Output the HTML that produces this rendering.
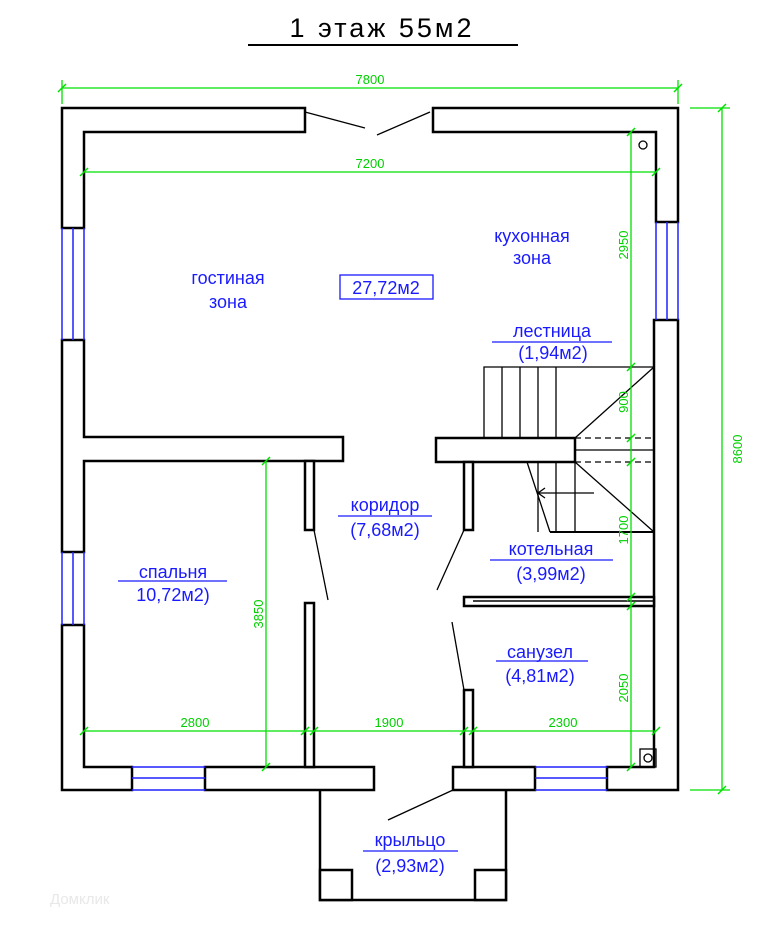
<!DOCTYPE html>
<html><head><meta charset="utf-8"><style>
body{margin:0;background:#fff}
svg text{font-family:"Liberation Sans",sans-serif}
</style></head><body>
<svg width="774" height="924" viewBox="0 0 774 924" xmlns="http://www.w3.org/2000/svg">
<g fill="#fff" stroke="#000" stroke-width="2.5">
<path d="M62,108 H305 V132 H84 V228 H62 Z"/>
<path d="M433,108 H678 V222 H656 V132 H433 Z"/>
<path d="M62,340 H84 V437 H343 V461 H84 V552 H62 Z"/>
<path d="M62,625 H84 V767 H132 V790 H62 Z"/>
<rect x="205" y="767" width="169" height="23"/>
<rect x="453" y="767" width="82" height="23"/>
<path d="M654,320 H678 V790 H607 V767 H654 Z"/>
<rect x="436" y="438" width="139" height="24"/>
<rect x="305" y="461" width="9" height="69"/>
<rect x="305" y="603" width="9" height="164"/>
<rect x="464" y="462" width="9" height="68"/>
<rect x="464" y="690" width="9" height="77"/>
<rect x="464" y="597" width="190" height="9"/>
<line x1="473" y1="601" x2="654" y2="601" stroke-width="1.5"/>
<path d="M320,790 V900 H506 V790" fill="none"/>
<rect x="320" y="870" width="32" height="30"/>
<rect x="475" y="870" width="31" height="30"/>
</g>
<g stroke="#2020ff" stroke-width="1.5">
<line x1="62" y1="228" x2="62" y2="340"/><line x1="73" y1="228" x2="73" y2="340"/><line x1="84" y1="228" x2="84" y2="340"/>
<line x1="62" y1="552" x2="62" y2="625"/><line x1="73" y1="552" x2="73" y2="625"/><line x1="84" y1="552" x2="84" y2="625"/>
<line x1="656" y1="222" x2="656" y2="320"/><line x1="667" y1="222" x2="667" y2="320"/><line x1="678" y1="222" x2="678" y2="320"/>
<line x1="132" y1="767" x2="205" y2="767"/><line x1="132" y1="778" x2="205" y2="778"/><line x1="132" y1="790" x2="205" y2="790"/>
<line x1="535" y1="767" x2="607" y2="767"/><line x1="535" y1="778" x2="607" y2="778"/><line x1="535" y1="790" x2="607" y2="790"/>
</g>
<g stroke="#000" stroke-width="1.3" fill="none">
<path d="M484,438 V367 H654"/>
<line x1="502" y1="367" x2="502" y2="438"/><line x1="520" y1="367" x2="520" y2="438"/><line x1="538" y1="367" x2="538" y2="438"/><line x1="556" y1="367" x2="556" y2="438"/>
<line x1="575" y1="438" x2="654" y2="367"/>
<line x1="575" y1="438" x2="654" y2="438" stroke-dasharray="6,4"/>
<line x1="575" y1="462" x2="654" y2="462" stroke-dasharray="6,4"/>
<line x1="575" y1="450" x2="654" y2="450"/>
<line x1="538" y1="462" x2="538" y2="532"/><line x1="556" y1="462" x2="556" y2="532"/><line x1="575" y1="462" x2="575" y2="532"/>
<line x1="550" y1="532" x2="654" y2="532" stroke-width="2"/>
<line x1="575" y1="462" x2="654" y2="532"/>
<line x1="527" y1="462" x2="550" y2="532"/>
<line x1="538" y1="493" x2="594" y2="493"/><path d="M545,488 L538,493 L545,498"/>
<line x1="305" y1="112" x2="365" y2="128"/><line x1="377" y1="135" x2="430" y2="112"/>
<line x1="314" y1="530" x2="328" y2="600"/><line x1="464" y1="530" x2="437" y2="590"/>
<line x1="452" y1="622" x2="464" y2="690"/><line x1="453" y1="790" x2="388" y2="820"/>
<circle cx="643" cy="145" r="4"/>
<rect x="640" y="749" width="16" height="18"/><circle cx="648" cy="758" r="4"/>
</g>
<g stroke="#00e000" stroke-width="1.3" fill="none">
<line x1="62" y1="88" x2="678" y2="88"/><line x1="62" y1="80" x2="62" y2="104"/><line x1="678" y1="80" x2="678" y2="104"/>
<line x1="84" y1="172" x2="656" y2="172"/>
<line x1="722" y1="108" x2="722" y2="790"/><line x1="690" y1="108" x2="730" y2="108"/><line x1="690" y1="790" x2="730" y2="790"/>
<line x1="631" y1="132" x2="631" y2="767"/>
<line x1="266" y1="461" x2="266" y2="767"/>
<line x1="84" y1="731" x2="656" y2="731"/>
<g stroke-width="1.5">
<line x1="58" y1="92" x2="66" y2="84"/><line x1="674" y1="92" x2="682" y2="84"/>
<line x1="80" y1="176" x2="88" y2="168"/><line x1="652" y1="176" x2="660" y2="168"/>
<line x1="718" y1="112" x2="726" y2="104"/><line x1="718" y1="794" x2="726" y2="786"/>
<line x1="627" y1="136" x2="635" y2="128"/><line x1="627" y1="371" x2="635" y2="363"/><line x1="627" y1="442" x2="635" y2="434"/><line x1="627" y1="466" x2="635" y2="458"/><line x1="627" y1="601" x2="635" y2="593"/><line x1="627" y1="610" x2="635" y2="602"/><line x1="627" y1="771" x2="635" y2="763"/>
<line x1="262" y1="465" x2="270" y2="457"/><line x1="262" y1="771" x2="270" y2="763"/>
<line x1="80" y1="735" x2="88" y2="727"/><line x1="301" y1="735" x2="309" y2="727"/><line x1="310" y1="735" x2="318" y2="727"/><line x1="460" y1="735" x2="468" y2="727"/><line x1="469" y1="735" x2="477" y2="727"/><line x1="652" y1="735" x2="660" y2="727"/>
</g>
</g>
<g fill="#00d000" font-size="13">
<text x="370" y="84" text-anchor="middle">7800</text>
<text x="370" y="168" text-anchor="middle">7200</text>
<text x="195" y="727" text-anchor="middle">2800</text>
<text x="389" y="727" text-anchor="middle">1900</text>
<text x="563" y="727" text-anchor="middle">2300</text>
<text transform="translate(742,449) rotate(-90)" text-anchor="middle">8600</text>
<text transform="translate(628,245) rotate(-90)" text-anchor="middle">2950</text>
<text transform="translate(628,402) rotate(-90)" text-anchor="middle">900</text>
<text transform="translate(628,530) rotate(-90)" text-anchor="middle">1700</text>
<text transform="translate(628,688) rotate(-90)" text-anchor="middle">2050</text>
<text transform="translate(263,614) rotate(-90)" text-anchor="middle">3850</text>
</g>
<text x="382" y="37" text-anchor="middle" font-size="27" letter-spacing="3">1  этаж 55м2</text>
<line x1="248" y1="45" x2="518" y2="45" stroke="#000" stroke-width="2"/>
<g fill="#1a1aff" font-size="18" text-anchor="middle">
<text x="228" y="284">гостиная</text><text x="228" y="308">зона</text>
<text x="386" y="294">27,72м2</text>
<text x="532" y="242">кухонная</text><text x="532" y="264">зона</text>
<text x="552" y="337">лестница</text><text x="553" y="359">(1,94м2)</text>
<text x="385" y="511">коридор</text><text x="385" y="536">(7,68м2)</text>
<text x="173" y="578">спальня</text><text x="173" y="601">10,72м2)</text>
<text x="551" y="555">котельная</text><text x="551" y="580">(3,99м2)</text>
<text x="540" y="658">санузел</text><text x="540" y="682">(4,81м2)</text>
<text x="410" y="846">крыльцо</text><text x="410" y="872">(2,93м2)</text>
</g>
<g stroke="#1a1aff" stroke-width="1.3" fill="none">
<rect x="340" y="275" width="93" height="24"/>
<line x1="492" y1="342" x2="612" y2="342"/>
<line x1="338" y1="516" x2="432" y2="516"/>
<line x1="118" y1="581" x2="227" y2="581"/>
<line x1="490" y1="560" x2="613" y2="560"/>
<line x1="496" y1="661" x2="588" y2="661"/>
<line x1="363" y1="851" x2="458" y2="851"/>
</g>
<text x="50" y="904" fill="#e8e8e8" font-size="15">Домклик</text>
</svg>
</body></html>
